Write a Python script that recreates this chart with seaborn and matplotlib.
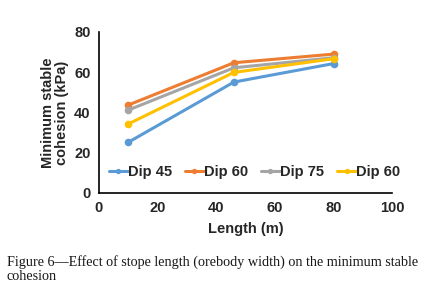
import matplotlib
matplotlib.use("Agg")
import matplotlib.pyplot as plt
import seaborn as sns

# values
length = [10, 46, 80]
dip45 = [25.2, 55.1, 64.3]
dip60 = [43.7, 64.7, 69.0]
dip75 = [41.2, 62.2, 67.2]
dip60b = [34.3, 59.9, 66.7]
labels = ["Dip 45", "Dip 60", "Dip 75", "Dip 60"]
colors = ["#5B9BD5", "#ED7D31", "#A5A5A5", "#FFC000"]

sns.set_style("ticks")
plt.rcParams['font.family'] = ['Liberation Sans', 'DejaVu Sans']

fig = plt.figure(figsize=(4.37, 2.88), dpi=100)
ax = fig.add_axes([0.2265, 0.330, 0.671, 0.559])

for ys, lab, c in zip([dip45, dip60, dip75, dip60b], labels, colors):
    sns.lineplot(x=length, y=ys, ax=ax, color=c, label=lab, linewidth=2.2,
                 marker="o", markersize=5.5, markeredgewidth=0)

ax.set_xlim(0, 100)
ax.set_ylim(0, 80)
ax.set_xticks([0, 20, 40, 60, 80, 100])
ax.set_yticks([0, 20, 40, 60, 80])
ax.tick_params(length=0, labelsize=10.5, pad=6)
for t in ax.get_xticklabels() + ax.get_yticklabels():
    t.set_fontweight("bold")
sns.despine(ax=ax)
for s in ["left", "bottom"]:
    ax.spines[s].set_color("black")
    ax.spines[s].set_linewidth(1.2)

ax.set_xlabel("Length (m)", fontsize=10.5, fontweight="bold", labelpad=5)
ax.set_ylabel("Minimum stable\ncohesion (kPa)", fontsize=10.5, fontweight="bold",
              labelpad=4, linespacing=1.0)

leg = ax.legend(loc="center", bbox_to_anchor=(0.53, 0.13), ncol=4, frameon=False,
                handlelength=1.3, handletextpad=0.0, columnspacing=0.9, markerscale=0.7,
                borderpad=0, prop={"weight": "bold", "size": 10.5})

fig.text(0.016, 0.016, "Figure 6\u2014Effect of stope length (orebody width) on the minimum stable\ncohesion",
         family=["Liberation Serif", "DejaVu Serif"], fontsize=10.2, color="#1a1718",
         linespacing=1.1, va="bottom", ha="left")

fig.savefig("out.png", dpi=100)
